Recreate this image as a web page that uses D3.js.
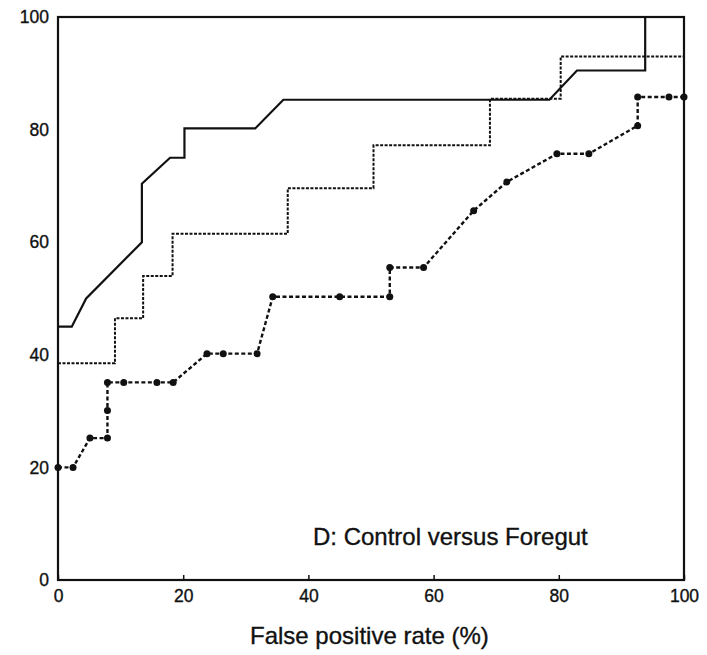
<!DOCTYPE html>
<html><head><meta charset="utf-8">
<script src="https://cdn.jsdelivr.net/npm/d3@7"></script>
<style>body{margin:0;background:#fff}svg{display:block}text{font-family:"Liberation Sans",Arial,sans-serif;fill:#111;stroke:#111;stroke-width:0.35px}</style>
</head><body>
<script>
// Data (x: false positive rate %, y: true positive rate %)
const solidX = [0, 2.2, 4.5, 13.4, 13.4, 17.9, 20.2, 20.2, 31.5, 36, 78.5, 82.9, 93.8, 93.8, 100];
const solidY = [45, 45, 50, 60, 70.4, 75, 75, 80.2, 80.2, 85.3, 85.3, 90.5, 90.5, 100, 100];
const dashX = [0, 9.1, 9.1, 13.6, 13.6, 18.3, 18.3, 36.7, 36.7, 50.4, 50.4, 69, 69, 80.3, 80.3, 100];
const dashY = [38.5, 38.5, 46.5, 46.5, 54, 54, 61.5, 61.5, 69.6, 69.6, 77.2, 77.2, 85.5, 85.5, 93, 93];
const dotX = [0, 2.4, 5.1, 7.9, 7.9, 7.9, 10.5, 15.8, 18.4, 23.8, 26.4, 31.8, 34.3, 45, 53, 53, 58.4, 66.4, 71.7, 79.7, 84.8, 92.6, 92.6, 97.6, 100];
const dotY = [20, 20, 25.2, 25.2, 30.1, 35.1, 35.1, 35.1, 35.1, 40.2, 40.2, 40.2, 50.3, 50.3, 50.3, 55.5, 55.5, 65.6, 70.7, 75.7, 75.7, 80.7, 85.8, 85.8, 85.8];
const xTicks = [0, 20, 40, 60, 80, 100];
const yTicks = [0, 20, 40, 60, 80, 100];
const xLabel = "False positive rate (%)";
const panelLabel = "D: Control versus Foregut";

const W = 707, H = 655;
const m = {left: 58, top: 17, right: 707 - 684, bottom: 655 - 580};
const svg = d3.select("body").append("svg").attr("width", W).attr("height", H);
const x = d3.scaleLinear().domain([0, 100]).range([m.left, W - m.right]);
const y = d3.scaleLinear().domain([0, 100]).range([H - m.bottom, m.top]);

// frame
svg.append("rect").attr("x", x(0)).attr("y", y(100)).attr("width", x(100) - x(0)).attr("height", y(0) - y(100))
  .attr("fill", "none").attr("stroke", "#111").attr("stroke-width", 2.2);

// axes
const xAxis = d3.axisBottom(x).tickValues(xTicks).tickSizeInner(-5).tickSizeOuter(0).tickPadding(10);
const gx = svg.append("g").attr("transform", `translate(0,${y(0)})`).call(xAxis);
gx.select(".domain").remove();
gx.selectAll("line").attr("stroke", "#111").attr("stroke-width", 1.5);
gx.selectAll("text").attr("font-size", 17.5).attr("fill", "#111").attr("font-family", "Liberation Sans, Arial, sans-serif");

const yAxis = d3.axisLeft(y).tickValues(yTicks).tickSize(0).tickPadding(9);
const gy = svg.append("g").attr("transform", `translate(${x(0)},0)`).call(yAxis);
gy.select(".domain").remove();
gy.selectAll("text").attr("font-size", 17.5).attr("fill", "#111").attr("font-family", "Liberation Sans, Arial, sans-serif");

const line = d3.line().x(d => x(d[0])).y(d => y(d[1]));

svg.append("path").datum(solidX.map((v, i) => [v, solidY[i]]))
  .attr("d", line).attr("fill", "none").attr("stroke", "#111").attr("stroke-width", 2.2);

svg.append("path").datum(dashX.map((v, i) => [v, dashY[i]]))
  .attr("d", line).attr("fill", "none").attr("stroke", "#111").attr("stroke-width", 2)
  .attr("stroke-dasharray", "3,1.5");

const dotData = dotX.map((v, i) => [v, dotY[i]]);
svg.append("path").datum(dotData)
  .attr("d", line).attr("fill", "none").attr("stroke", "#111").attr("stroke-width", 2.4)
  .attr("stroke-dasharray", "4,2.5");
svg.selectAll("circle.pt").data(dotData).enter().append("circle").attr("class", "pt")
  .attr("cx", d => x(d[0])).attr("cy", d => y(d[1])).attr("r", 3.5).attr("fill", "#111");

svg.append("text").attr("x", 313).attr("y", 545).attr("font-size", 24).text(panelLabel);
svg.append("text").attr("x", 250).attr("y", 644).attr("font-size", 24).text(xLabel);
</script>
</body></html>
